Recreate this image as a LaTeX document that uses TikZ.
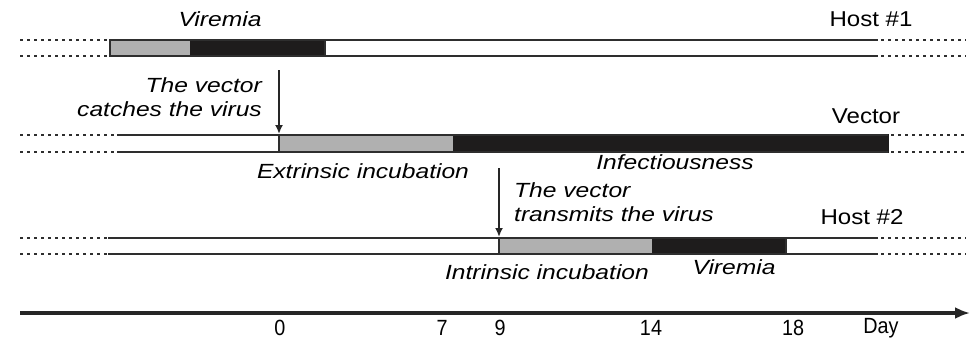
\documentclass[tikz,border=0pt]{standalone}
\usepackage{fontspec}
\setmainfont{Liberation Sans}
\newfontfamily\labfont[FakeStretch=1.2]{Liberation Sans}
\newfontfamily\namefont[FakeStretch=1.12]{Liberation Sans}
\newfontfamily\tickfont[FakeStretch=0.9]{Liberation Sans}
\usetikzlibrary{arrows.meta}
\definecolor{barline}{HTML}{2E2E2E}
\definecolor{darkfill}{HTML}{1E1C1C}
\definecolor{hatchfill}{HTML}{B0B0B0}
\tikzset{
  barborder/.style={draw=barline, line width=2.2pt},
  dotline/.style={draw=barline, line width=2.6pt, dash pattern=on 2.6pt off 4.4pt},
  greyseg/.style={fill=hatchfill, draw=barline, line width=1.4pt},
  blackseg/.style={fill=darkfill, draw=darkfill, line width=1.2pt},
  itlabel/.style={font=\labfont\itshape\fontsize{20.5}{24}\selectfont, inner sep=0pt},
  namelabel/.style={font=\namefont\fontsize{21.5}{25}\selectfont, inner sep=0pt},
  ticklabel/.style={font=\tickfont\fontsize{22}{26}\selectfont, inner sep=0pt},
  event/.style={draw=black!85, line width=2.2pt, -{Latex[length=9pt,width=8pt]}},
  axis/.style={draw=black!85, line width=3.6pt, -{Latex[length=15pt,width=12pt]}}
}
\begin{document}
\begin{tikzpicture}[x=1pt,y=-1pt]
\useasboundingbox (0,0) rectangle (973,340);
% ---------- Host #1 ----------
\filldraw[greyseg] (110,40) rectangle (191,56);
\filldraw[blackseg] (191,40) rectangle (325,56);
\draw[barborder] (325,40) -- (325,56);
\draw[barborder] (110,40) -- (878,40);
\draw[barborder] (110,56) -- (878,56);
\draw[dotline] (20,40) -- (110,40);
\draw[dotline] (20,56) -- (110,56);
\draw[dotline] (881,40) -- (966,40);
\draw[dotline] (881,56) -- (966,56);
% ---------- Vector ----------
\filldraw[greyseg] (279,135) rectangle (454,152);
\filldraw[blackseg] (454,135) rectangle (888,152);
\draw[barborder] (117,135) -- (888,135);
\draw[barborder] (117,152) -- (888,152);
\draw[barborder] (279,135) -- (279,152);
\draw[dotline] (20,135) -- (117,135);
\draw[dotline] (20,152) -- (117,152);
\draw[dotline] (891,135) -- (966,135);
\draw[dotline] (891,152) -- (966,152);
% ---------- Host #2 ----------
\filldraw[greyseg] (499,238) rectangle (653,254);
\filldraw[blackseg] (653,238) rectangle (786,254);
\draw[barborder] (108,238) -- (878,238);
\draw[barborder] (108,254) -- (878,254);
\draw[barborder] (499,238) -- (499,254);
\draw[barborder] (786,238) -- (786,254);
\draw[dotline] (20,238) -- (108,238);
\draw[dotline] (20,254) -- (108,254);
\draw[dotline] (881,238) -- (966,238);
\draw[dotline] (881,254) -- (966,254);
% ---------- labels ----------
\node[itlabel] (vir1) at (220,19) {Viremia};
\node[namelabel] (host1) at (871,19) {Host \#1};
\node[itlabel, align=right, anchor=east] (catch) at (262,97) {The vector\\catches the virus};
\node[namelabel] (vec) at (866,116) {Vector};
\node[itlabel] (extr) at (363,171) {Extrinsic incubation};
\node[itlabel] (inf) at (675,162) {Infectiousness};
\node[itlabel, align=left, anchor=west] (trans) at (514,202) {The vector\\transmits the virus};
\node[namelabel] (host2) at (862,217) {Host \#2};
\node[itlabel] (intr) at (547,272) {Intrinsic incubation};
\node[itlabel] (vir2) at (734,267) {Viremia};
% ---------- event arrows ----------
\coordinate (c1s) at (279,70);
\coordinate (c1e) at (279,134);
\draw[event] (c1s) -- (c1e);
\coordinate (c2s) at (499,168);
\coordinate (c2e) at (499,237);
\draw[event] (c2s) -- (c2e);
% ---------- time axis ----------
\coordinate (ax0) at (20,313);
\coordinate (ax1) at (970,313);
\draw[axis] (ax0) -- (ax1);
\node[ticklabel] (t0) at (280,328) {0};
\node[ticklabel] (t7) at (442,328) {7};
\node[ticklabel] (t9) at (500,328) {9};
\node[ticklabel] (t14) at (651,328) {14};
\node[ticklabel] (t18) at (793,328) {18};
\node[ticklabel] (tday) at (881,328) {Day};
\end{tikzpicture}
\end{document}
